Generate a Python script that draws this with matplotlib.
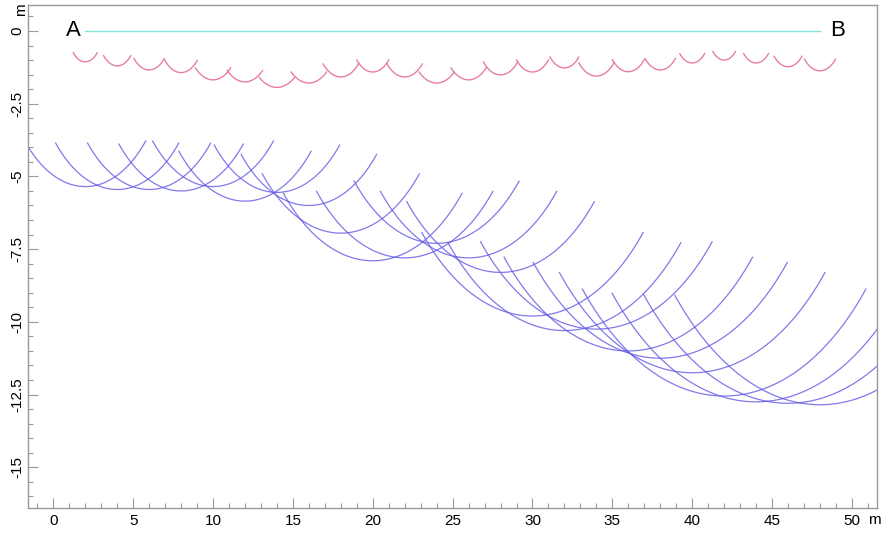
import numpy as np
import matplotlib
matplotlib.use("Agg")
import matplotlib.pyplot as plt
from matplotlib.ticker import MultipleLocator, FixedLocator, FixedFormatter

plt.rcParams['font.family'] = ['Liberation Sans', 'DejaVu Sans']

# shot points along the profile A-B (m)
centers = np.arange(2, 50, 2)

# radius of each wavefront arc below its shot point (m)
r_shallow = [1.06, 1.20, 1.34, 1.43, 1.68, 1.75, 1.94, 1.79, 1.58, 1.41, 1.58, 1.79,
             1.68, 1.51, 1.41, 1.27, 1.55, 1.40, 1.34, 1.10, 1.00, 1.10, 1.23, 1.37]
r_deep = [5.35, 5.45, 5.45, 5.50, 5.35, 5.85, 5.55, 6.00, 6.95, 7.90, 7.80, 7.30,
          7.80, 8.30, 9.80, 10.30, 10.25, 11.00, 11.25, 11.75, 12.55, 12.75, 12.80, 12.85]

profile_x = [2, 48]
yticks = [0, -2.5, -5, -7.5, -10, -12.5, -15]
ylabels = ['0', '-2.5', '-5', '-7.5', '-10', '-12.5', '-15']
xticks = [0, 5, 10, 15, 20, 25, 30, 35, 40, 45, 50]


def arc(cx, r, half_width=None):
    # lower part of a circle centred on the surface, +-45 deg from vertical
    phi = np.pi / 4
    if half_width is not None and r * np.sin(phi) > half_width:
        phi = np.arcsin(half_width / r)
    t = np.linspace(-phi, phi, 80)
    return cx + r * np.sin(t), -r * np.cos(t)


fig = plt.figure(figsize=(8.82, 5.33), dpi=100)
ax = fig.add_axes([28 / 882, 25 / 533, 849 / 882, 503 / 533])
ax.set_xlim(-1.584, 51.57)
ax.set_ylim(-16.40, 0.893)

for cx, r in zip(centers, r_deep):
    x, y = arc(cx, r)
    ax.plot(x, y, color='#6258e6', lw=0.9, alpha=0.8)

for cx, r in zip(centers, r_shallow):
    x, y = arc(cx, r, half_width=1.1)
    ax.plot(x, y, color='#e36a88', lw=1.0, alpha=0.85)

ax.plot(profile_x, [0, 0], color='#7fe6d6', lw=1.0)
ax.text(1.23, 0, 'A', fontsize=16, ha='center', va='center')
ax.text(49.1, 0, 'B', fontsize=16, ha='center', va='center')

# axes frame and ticks
for s in ax.spines.values():
    s.set_color('#9a9a9a')
    s.set_linewidth(1.0)

ax.xaxis.set_major_locator(FixedLocator(xticks))
ax.xaxis.set_minor_locator(MultipleLocator(1))
ax.yaxis.set_major_locator(FixedLocator(yticks))
ax.yaxis.set_major_formatter(FixedFormatter(ylabels))
ax.yaxis.set_minor_locator(MultipleLocator(0.5))
ax.tick_params(which='both', direction='in', color='#9a9a9a', top=False, right=False)
ax.tick_params(which='major', length=7, width=0.8, labelsize=11)
ax.tick_params(which='minor', length=3.5, width=0.8)
ax.tick_params(axis='x', pad=4)
ax.tick_params(axis='y', pad=2.5, labelrotation=90)
for lab in ax.get_yticklabels():
    lab.set_va('center')

ax.text(-1.584, 0.72, 'm', fontsize=11, rotation=90, ha='right', va='center',
        transform=ax.transData, clip_on=False)
ax.text(51.0, -16.58, 'm', fontsize=11, ha='left', va='top',
        transform=ax.transData, clip_on=False)

fig.savefig('out.png', dpi=100, facecolor='white')
